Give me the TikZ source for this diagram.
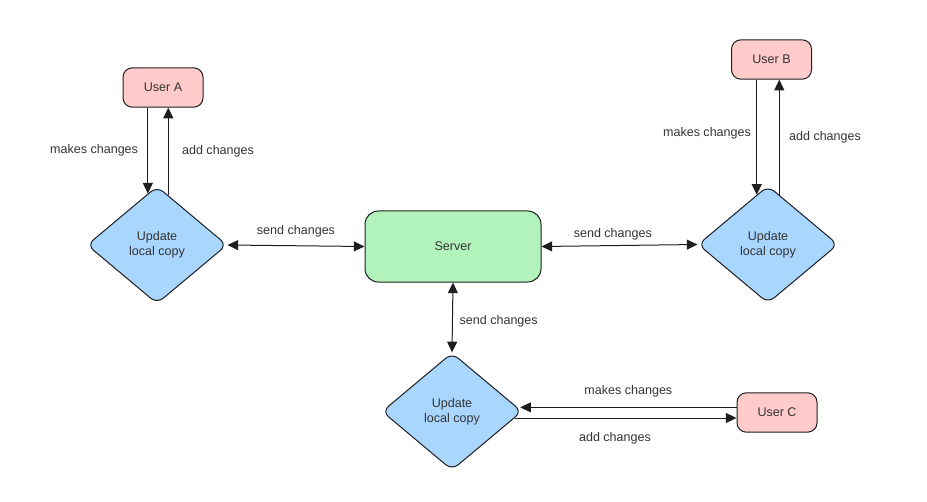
\documentclass[tikz,border=0pt]{standalone}
\usepackage{fontspec}
\setmainfont{Liberation Sans}
\usetikzlibrary{shapes.geometric,arrows.meta,calc}
\definecolor{userfill}{HTML}{FFCACA}
\definecolor{serverfill}{HTML}{B2F2BB}
\definecolor{updfill}{HTML}{A8D6FF}
\definecolor{edgecol}{HTML}{1E1E1E}
\definecolor{txt}{HTML}{333333}
\begin{document}
\begin{tikzpicture}[x=0.75pt,y=-0.75pt,
  every node/.style={font=\fontsize{9.4}{11}\selectfont, text=txt},
  user/.style={draw=edgecol, fill=userfill, rounded corners=7pt, line width=0.75pt,
    minimum width=60pt, minimum height=29.5pt, inner sep=0pt},
  server/.style={draw=edgecol, fill=serverfill, rounded corners=10pt, line width=0.75pt,
    minimum width=132pt, minimum height=53.25pt, inner sep=0pt},
  upd/.style={draw=edgecol, fill=updfill, diamond, rounded corners=6pt, line width=0.75pt,
    minimum width=105pt, minimum height=88pt, inner sep=0pt, align=center},
  link/.style={draw=edgecol, line width=0.75pt, -{Triangle[length=8pt,width=7.5pt]}},
  dlink/.style={draw=edgecol, line width=0.75pt,
    {Triangle[length=8pt,width=7.5pt]}-{Triangle[length=8pt,width=7.5pt]}},
  lbl/.style={inner sep=0pt}
]
\useasboundingbox (0,0) rectangle (927,502);

% nodes
\node[user] (uA) at (163,87.5) {User A};
\node[user] (uB) at (771.5,59.5) {User B};
\node[user] (uC) at (777,412.5) {User C};
\node[server] (srv) at (453,246.5) {Server};
\node[upd] (dA) at (157,245) {Update\\local copy};
\node[upd] (dB) at (768,244.5) {Update\\local copy};
\node[upd] (dC) at (452,411.5) {Update\\local copy};

% attachment points on the diamond edges
\coordinate (pA) at ($(dA.north)!0.13!(dA.west)$);
\coordinate (qA) at ($(dA.north)!0.16!(dA.east)$);
\coordinate (pB) at ($(dB.north)!0.16!(dB.west)$);
\coordinate (qB) at ($(dB.north)!0.16!(dB.east)$);
\coordinate (pC) at ($(dC.east)!0.07!(dC.north)$);
\coordinate (qC) at ($(dC.east)!0.11!(dC.south)$);

% user A
\draw[link] (uA.south -| pA) -- node[lbl, left=7pt] {makes changes} (pA);
\draw[link] (qA) -- node[lbl, right=10pt] {add changes} (uA.south -| qA);
% user B
\draw[link] (uB.south -| pB) -- node[lbl, left=4pt, yshift=3pt] {makes changes} (pB);
\draw[link] (qB) -- node[lbl, right=7pt] {add changes} (uB.south -| qB);
% user C
\draw[link] (uC.west |- pC) -- node[lbl, above=7.5pt] {makes changes} ([xshift=2pt]pC);
\draw[link] (qC) -- node[lbl, below=10.5pt, xshift=-8pt] {add changes} (uC.west |- qC);

% server links
\draw[dlink] (dA.east) -- node[lbl, above=6pt] {send changes} (srv.west);
\draw[dlink] (srv.east) -- node[lbl, above=4pt, xshift=-5pt] {send changes} (dB.west);
\draw[dlink] (srv.south) -- node[lbl, right=5pt, yshift=-3pt] {send changes} (dC.north);
\end{tikzpicture}
\end{document}
